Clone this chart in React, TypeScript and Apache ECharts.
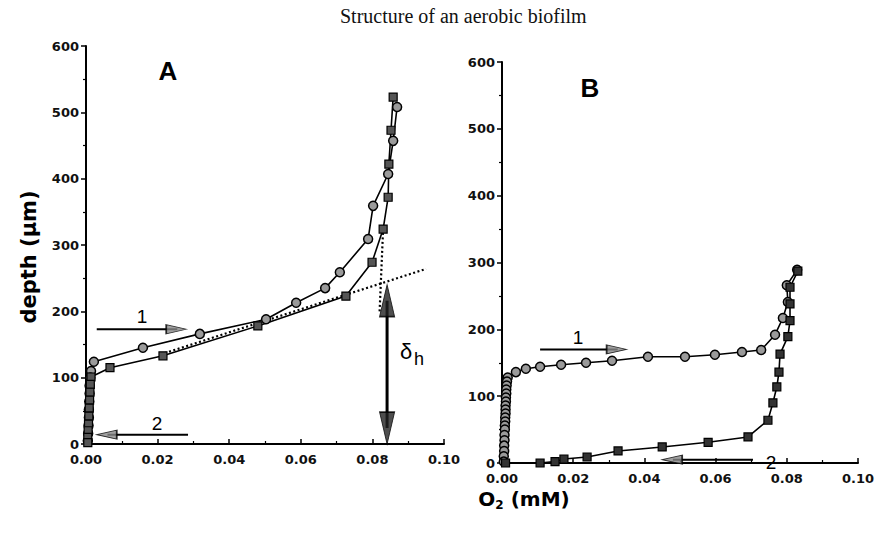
import React, { useEffect, useRef } from "react";
import * as echarts from "echarts";

// Panel A – profile 1 (circles) and profile 2 (squares)
const o2A1 = [0.0869, 0.0858, 0.0844, 0.0802, 0.0788, 0.0709, 0.0668, 0.0587, 0.0503, 0.0318, 0.0159, 0.0022, 0.0014, 0.0012, 0.001, 0.001, 0.0009, 0.0008, 0.0008, 0.0007, 0.0006, 0.0005];
const depthA1 = [508, 457, 407, 359, 309, 259, 235, 213, 188, 166, 145, 124, 110, 100, 88, 76, 64, 52, 40, 28, 16, 5];
const o2A2 = [0.0858, 0.0852, 0.0846, 0.0844, 0.083, 0.0799, 0.0726, 0.048, 0.0215, 0.0067, 0.0014, 0.0012, 0.0011, 0.001, 0.0009, 0.0008, 0.0007, 0.0006, 0.0005, 0.0005];
const depthA2 = [523, 473, 422, 372, 324, 274, 223, 178, 133, 115, 101, 90, 78, 66, 54, 42, 30, 20, 10, 2];

// Panel B
const o2B1 = [0.0829, 0.08, 0.0803, 0.0789, 0.0767, 0.0728, 0.0674, 0.0598, 0.0514, 0.041, 0.0309, 0.0236, 0.0166, 0.0107, 0.0067, 0.0039, 0.0016, 0.0014, 0.0013, 0.0012, 0.0012, 0.0011, 0.0011, 0.001, 0.001, 0.001, 0.0009, 0.0009, 0.0008, 0.0008, 0.0007, 0.0007, 0.0006, 0.0006, 0.0005, 0.0005];
const depthB1 = [289, 266, 241, 217, 192, 169, 166, 162, 159, 159, 153, 150, 147, 144, 141, 136, 128, 122, 116, 110, 104, 98, 92, 86, 80, 74, 68, 62, 56, 50, 42, 34, 26, 18, 10, 2];
const o2B2 = [0.0831, 0.0809, 0.0809, 0.0809, 0.0803, 0.0781, 0.0778, 0.0772, 0.0761, 0.0747, 0.0691, 0.0579, 0.045, 0.0326, 0.0239, 0.0174, 0.0149, 0.0107, 0.001];
const depthB2 = [287, 263, 238, 213, 189, 163, 136, 114, 90, 64, 39, 31, 24, 18, 9, 6, 2, 0, 0];

// Dotted construction lines (panel A)
const dotSlopeA = [[0.022, 137], [0.095, 264]];
const dotSteepA = [[0.083, 325], [0.082, 198]];

// Arrow shafts [x, y] pairs and arrowhead centres [x, y, rotation]
const shaft1A = [[0.003, 173], [0.0255, 173]];
const head1A = [0.0252, 173, -90];
const shaft2A = [[0.0285, 14], [0.006, 14]];
const head2A = [0.0058, 14, 90];
const shaftDelta = [[0.0841, 216], [0.0841, 24]];
const headDeltaTop = [0.0841, 216, 0];
const headDeltaBottom = [0.0841, 24, 180];
const shaft1B = [[0.0107, 170], [0.0325, 170]];
const head1B = [0.0322, 170, -90];
const shaft2B = [[0.0705, 5], [0.048, 5]];
const head2B = [0.0478, 5, 90];

const xTicks = [0, 0.02, 0.04, 0.06, 0.08, 0.1];
const yTicks = [0, 100, 200, 300, 400, 500, 600];

const zip = (xs: number[], ys: number[]) => xs.map((x, i) => [x, ys[i]]);

const tickFont = { fontFamily: "DejaVu Sans", fontWeight: "bold" as const, fontSize: 13, color: "#111" };

function makeX(gridIndex: number) {
  return {
    type: "value",
    gridIndex,
    min: xTicks[0],
    max: xTicks[xTicks.length - 1],
    interval: 0.02,
    axisLine: { show: true, lineStyle: { color: "#000", width: 2 } },
    axisTick: { show: true, inside: true, length: 5, lineStyle: { color: "#000", width: 1.5 } },
    minorTick: { show: true, splitNumber: 2, length: 3, lineStyle: { color: "#000", width: 1.2 } },
    splitLine: { show: false },
    axisLabel: { ...tickFont, margin: 9, formatter: (v: number) => v.toFixed(2) },
  };
}
function makeY(gridIndex: number) {
  return {
    type: "value",
    gridIndex,
    min: yTicks[0],
    max: yTicks[yTicks.length - 1],
    interval: 100,
    axisLine: { show: true, lineStyle: { color: "#000", width: 2 } },
    axisTick: { show: true, inside: false, length: 5, lineStyle: { color: "#000", width: 1.5 } },
    minorTick: { show: true, splitNumber: 2, length: 3, lineStyle: { color: "#000", width: 1.2 } },
    splitLine: { show: false },
    axisLabel: { ...tickFont, margin: 7 },
  };
}

const shaft = (grid: number, data: number[][], width: number) => ({
  type: "line", xAxisIndex: grid, yAxisIndex: grid, data, symbol: "none", silent: true,
  lineStyle: { color: "#000", width }, z: 3,
});
const heads = (grid: number, list: number[][], size: number[], color: string) =>
  list.map((h) => ({
    type: "scatter", xAxisIndex: grid, yAxisIndex: grid, silent: true, z: 4,
    data: [[h[0], h[1]]],
    symbol: "triangle", symbolSize: size, symbolRotate: h[2],
    itemStyle: { color, borderColor: "#000", borderWidth: 1.2 },
  }));

export default function App() {
  const ref = useRef<HTMLDivElement>(null);
  useEffect(() => {
    if (!ref.current) return;
    const chart = echarts.init(ref.current, null, { renderer: "svg" });
    const circleStyle = { color: "#9a9a9a", borderColor: "#000", borderWidth: 1.5 };
    const squareStyle = { color: "#555", borderColor: "#000", borderWidth: 1.2 };
    chart.setOption({
      animation: false,
      backgroundColor: "#fff",
      grid: [
        { left: 86, top: 46, width: 358, height: 398 },
        { left: 502, top: 62, width: 356, height: 401 },
      ],
      xAxis: [makeX(0), makeX(1)],
      yAxis: [makeY(0), makeY(1)],
      series: [
        {
          type: "line", xAxisIndex: 0, yAxisIndex: 0, data: zip(o2A1, depthA1),
          symbol: "circle", symbolSize: 9, itemStyle: circleStyle,
          lineStyle: { color: "#000", width: 1.6 },
        },
        {
          type: "line", xAxisIndex: 0, yAxisIndex: 0, data: zip(o2A2, depthA2),
          symbol: "rect", symbolSize: 8, itemStyle: squareStyle,
          lineStyle: { color: "#000", width: 1.6 },
        },
        {
          type: "line", xAxisIndex: 0, yAxisIndex: 0, data: dotSlopeA, symbol: "none", silent: true,
          lineStyle: { color: "#000", width: 2.2, type: [2, 2.5] }, z: 1,
        },
        {
          type: "line", xAxisIndex: 0, yAxisIndex: 0, data: dotSteepA, symbol: "none", silent: true,
          lineStyle: { color: "#000", width: 2.2, type: [2, 2.5] }, z: 1,
        },
        {
          type: "line", xAxisIndex: 1, yAxisIndex: 1, data: zip(o2B1, depthB1),
          symbol: "circle", symbolSize: 9, itemStyle: circleStyle,
          lineStyle: { color: "#000", width: 1.6 },
        },
        {
          type: "line", xAxisIndex: 1, yAxisIndex: 1, data: zip(o2B2, depthB2),
          symbol: "rect", symbolSize: 8, itemStyle: { ...squareStyle, color: "#333" },
          lineStyle: { color: "#000", width: 1.6 },
        },
        shaft(0, shaft1A, 2),
        shaft(0, shaft2A, 2),
        shaft(0, shaftDelta, 3),
        shaft(1, shaft1B, 2),
        shaft(1, shaft2B, 2),
        ...heads(0, [head1A, head2A], [9, 20], "#888"),
        ...heads(0, [headDeltaTop, headDeltaBottom], [15, 32], "#222"),
        ...heads(1, [head1B, head2B], [9, 20], "#888"),
      ],
      graphic: [
        {
          type: "text", left: 340, top: 6,
          style: { text: "Structure of an aerobic biofilm", font: "20px 'Liberation Serif'", fill: "#111" },
        },
        {
          type: "text", x: 168, y: 71,
          style: { text: "A", font: "bold 26px 'Liberation Sans'", fill: "#000", align: "center", verticalAlign: "middle" },
        },
        {
          type: "text", x: 590, y: 88,
          style: { text: "B", font: "bold 26px 'Liberation Sans'", fill: "#000", align: "center", verticalAlign: "middle" },
        },
        {
          type: "text", x: 142, y: 316,
          style: { text: "1", font: "19px 'Liberation Sans'", fill: "#000", align: "center", verticalAlign: "middle" },
        },
        {
          type: "text", x: 157, y: 423,
          style: { text: "2", font: "19px 'Liberation Sans'", fill: "#000", align: "center", verticalAlign: "middle" },
        },
        {
          type: "text", x: 578, y: 337,
          style: { text: "1", font: "19px 'Liberation Sans'", fill: "#000", align: "center", verticalAlign: "middle" },
        },
        {
          type: "text", x: 771, y: 462,
          style: { text: "2", font: "19px 'Liberation Sans'", fill: "#000", align: "center", verticalAlign: "middle" },
        },
        {
          type: "text", x: 406, y: 351,
          style: { text: "δ", font: "22px 'Liberation Sans'", fill: "#000", align: "center", verticalAlign: "middle" },
        },
        {
          type: "text", x: 419, y: 359,
          style: { text: "h", font: "18px 'Liberation Sans'", fill: "#000", align: "center", verticalAlign: "middle" },
        },
        {
          type: "text", x: 29, y: 257, rotation: Math.PI / 2,
          style: { text: "depth (μm)", font: "bold 21px 'DejaVu Sans'", fill: "#000", align: "center", verticalAlign: "middle" },
        },
        {
          type: "text", x: 524, y: 499,
          style: {
            text: "{o|O}{s|2}{o| (mM)}",
            align: "center", verticalAlign: "middle",
            rich: {
              o: { fontFamily: "DejaVu Sans", fontWeight: "bold", fontSize: 20, color: "#000" },
              s: { fontFamily: "DejaVu Sans", fontWeight: "bold", fontSize: 12, color: "#000", padding: [12, 0, 0, 0] },
            },
          },
        },
      ],
    });
    return () => chart.dispose();
  }, []);
  return (
    <div
      ref={ref}
      style={{ position: "fixed", left: 0, top: 0, width: 879, height: 540, background: "#fff" }}
    />
  );
}
